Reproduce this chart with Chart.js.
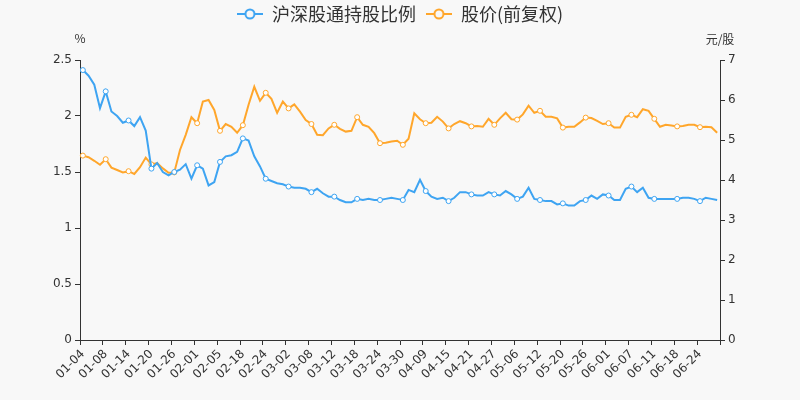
<!DOCTYPE html>
<html>
<head>
<meta charset="utf-8">
<script src="https://cdn.jsdelivr.net/npm/chart.js@4.4.1/dist/chart.umd.min.js"></script>
<style>
  html, body { margin: 0; padding: 0; background: #f8f8f8; }
  #wrap { width: 800px; height: 400px; }
</style>
</head>
<body>
<div id="wrap"><canvas id="chart"></canvas></div>
<script>
// trading days (northbound), 2021-01-04 .. 06-29
const dates = [
  '01-04', '01-05', '01-06', '01-07', '01-08', '01-11', '01-12', '01-13',
  '01-14', '01-15', '01-18', '01-19', '01-20', '01-21', '01-22', '01-25',
  '01-26', '01-27', '01-28', '01-29', '02-01', '02-02', '02-03', '02-04',
  '02-05', '02-08', '02-09', '02-10', '02-18', '02-19', '02-22', '02-23',
  '02-24', '02-25', '02-26', '03-01', '03-02', '03-03', '03-04', '03-05',
  '03-08', '03-09', '03-10', '03-11', '03-12', '03-15', '03-16', '03-17',
  '03-18', '03-19', '03-22', '03-23', '03-24', '03-25', '03-26', '03-29',
  '03-30', '03-31', '04-07', '04-08', '04-09', '04-12', '04-13', '04-14',
  '04-15', '04-16', '04-19', '04-20', '04-21', '04-22', '04-23', '04-26',
  '04-27', '04-28', '04-29', '04-30', '05-06', '05-07', '05-10', '05-11',
  '05-12', '05-13', '05-14', '05-17', '05-20', '05-21', '05-24', '05-25',
  '05-26', '05-27', '05-28', '05-31', '06-01', '06-02', '06-03', '06-04',
  '06-07', '06-08', '06-09', '06-10', '06-11', '06-15', '06-16', '06-17',
  '06-18', '06-21', '06-22', '06-23', '06-24', '06-25', '06-28', '06-29'
];

// 沪深股通持股比例 (%)
const holdRatio = [
  2.41, 2.36, 2.28, 2.07, 2.22, 2.04, 2.00, 1.94, 1.96, 1.91, 1.99, 1.87,
  1.53, 1.58, 1.50, 1.47, 1.50, 1.52, 1.57, 1.44, 1.56, 1.53, 1.38, 1.41,
  1.59, 1.64, 1.65, 1.68, 1.80, 1.78, 1.64, 1.55, 1.44, 1.42, 1.40, 1.39,
  1.37, 1.36, 1.36, 1.35, 1.32, 1.35, 1.31, 1.28, 1.28, 1.25, 1.23, 1.23,
  1.26, 1.25, 1.26, 1.25, 1.25, 1.26, 1.27, 1.26, 1.25, 1.34, 1.32, 1.43,
  1.33, 1.28, 1.26, 1.27, 1.24, 1.27, 1.32, 1.32, 1.30, 1.29, 1.29, 1.32,
  1.30, 1.29, 1.33, 1.30, 1.26, 1.28, 1.36, 1.26, 1.25, 1.24, 1.24, 1.21,
  1.22, 1.20, 1.20, 1.24, 1.25, 1.29, 1.26, 1.30, 1.29, 1.25, 1.25, 1.35,
  1.37, 1.32, 1.36, 1.27, 1.26, 1.26, 1.26, 1.26, 1.26, 1.27, 1.27, 1.26,
  1.24, 1.27, 1.26, 1.25
];

// 股价(前复权) 元/股
const price = [
  4.61, 4.57, 4.48, 4.38, 4.52, 4.31, 4.25, 4.19, 4.22, 4.15, 4.32, 4.56,
  4.39, 4.42, 4.29, 4.18, 4.19, 4.75, 5.13, 5.57, 5.42, 5.96, 6.00, 5.75,
  5.23, 5.40, 5.33, 5.18, 5.37, 5.88, 6.33, 5.98, 6.18, 6.03, 5.68, 5.96,
  5.79, 5.89, 5.71, 5.50, 5.40, 5.13, 5.12, 5.29, 5.38, 5.28, 5.21, 5.23,
  5.57, 5.38, 5.33, 5.17, 4.92, 4.93, 4.96, 4.98, 4.88, 5.03, 5.67, 5.52,
  5.42, 5.43, 5.58, 5.46, 5.29, 5.40, 5.47, 5.42, 5.34, 5.35, 5.33, 5.53,
  5.38, 5.54, 5.68, 5.52, 5.51, 5.64, 5.86, 5.68, 5.73, 5.58, 5.58, 5.54,
  5.31, 5.33, 5.33, 5.44, 5.56, 5.55, 5.48, 5.40, 5.42, 5.31, 5.31, 5.58,
  5.63, 5.57, 5.77, 5.73, 5.53, 5.33, 5.38, 5.36, 5.34, 5.35, 5.38, 5.38,
  5.32, 5.33, 5.32, 5.18
];

const BLUE = '#3ea4f2';
const ORANGE = '#ffa62b';
const BG = '#f8f8f8';
const TXT = '#333';
const NUM_FONT = 'DejaVu Sans';
const CJK_FONT = '"Noto Sans CJK SC", "DejaVu Sans", sans-serif';

// echarts-like legend icon: short line with a hollow circle
function legendIcon(color) {
  const c = document.createElement('canvas');
  c.width = 26; c.height = 12;
  const g = c.getContext('2d');
  g.strokeStyle = color;
  g.lineWidth = 2;
  g.beginPath(); g.moveTo(0, 6); g.lineTo(26, 6); g.stroke();
  g.beginPath(); g.arc(13, 6, 4.5, 0, Math.PI * 2);
  g.fillStyle = BG; g.fill(); g.stroke();
  return c;
}
const icons = [legendIcon(BLUE), legendIcon(ORANGE)];

const markerRadius = (ctx) => ctx.dataIndex % 4 === 0 ? 2.5 : 0;

// unit labels above the two value axes
const axisUnits = {
  id: 'axisUnits',
  afterDraw(chart) {
    const {ctx, scales} = chart;
    ctx.save();
    ctx.fillStyle = TXT;
    ctx.font = '12px ' + CJK_FONT;
    ctx.textAlign = 'center';
    ctx.textBaseline = 'middle';
    ctx.fillText('%', scales.y.right, scales.y.top - 22);
    ctx.fillText('元/股', scales.y1.left, scales.y1.top - 21);
    ctx.restore();
  }
};

// fixed legend band height so the plot starts where the reference does
const legendBand = {
  id: 'legendBand',
  afterInit(chart) {
    const legend = chart.legend;
    const fit = legend.fit.bind(legend);
    legend.fit = () => { fit(); legend.height = 65; };
  }
};

new Chart(document.getElementById('chart'), {
  type: 'line',
  data: {
    labels: dates,
    datasets: [
      {
        label: '沪深股通持股比例',
        data: holdRatio,
        yAxisID: 'y',
        borderColor: BLUE,
        backgroundColor: BLUE,
        borderWidth: 2,
        tension: 0,
        pointRadius: markerRadius,
        pointHoverRadius: markerRadius,
        pointBackgroundColor: '#fff',
        pointBorderColor: BLUE,
        pointBorderWidth: 1
      },
      {
        label: '股价(前复权)',
        data: price,
        yAxisID: 'y1',
        borderColor: ORANGE,
        backgroundColor: ORANGE,
        borderWidth: 2,
        tension: 0,
        pointRadius: markerRadius,
        pointHoverRadius: markerRadius,
        pointBackgroundColor: '#fff',
        pointBorderColor: ORANGE,
        pointBorderWidth: 1
      }
    ]
  },
  options: {
    responsive: true,
    maintainAspectRatio: false,
    animation: false,
    layout: {padding: {top: -5, left: 0, right: 0, bottom: 0}},
    plugins: {
      legend: {
        position: 'top',
        align: 'center',
        labels: {
          usePointStyle: true,
          pointStyleWidth: 26,
          padding: 10,
          color: TXT,
          font: {size: 18, family: CJK_FONT},
          generateLabels(chart) {
            const items = Chart.defaults.plugins.legend.labels.generateLabels(chart);
            items.forEach((it) => { it.pointStyle = icons[it.datasetIndex]; });
            return items;
          }
        }
      },
      tooltip: {enabled: false}
    },
    scales: {
      x: {
        offset: true,
        grid: {
          offset: true,
          drawOnChartArea: false,
          tickLength: 5,
          tickColor: (ctx) => (ctx.index === undefined || ctx.index % 4 === 0) ? TXT : 'rgba(0,0,0,0)'
        },
        border: {color: TXT, width: 1},
        ticks: {
          autoSkip: false,
          minRotation: 45,
          maxRotation: 45,
          color: TXT,
          font: {size: 12, family: NUM_FONT},
          padding: 2,
          callback: (v, i) => i % 4 === 0 ? dates[i] : ''
        },
        afterFit: (s) => { s.height = 60; }
      },
      y: {
        position: 'left',
        min: 0,
        max: 2.5,
        grid: {drawOnChartArea: false, tickLength: 5, tickColor: TXT},
        border: {color: TXT, width: 1},
        ticks: {
          stepSize: 0.5,
          color: TXT,
          font: {size: 12, family: NUM_FONT},
          padding: 3,
          callback: (v) => String(Math.round(v * 10) / 10)
        },
        afterFit: (s) => { s.width = 80; }
      },
      y1: {
        position: 'right',
        min: 0,
        max: 7,
        grid: {drawOnChartArea: false, tickLength: 5, tickColor: TXT},
        border: {color: TXT, width: 1},
        ticks: {stepSize: 1, color: TXT, font: {size: 12, family: NUM_FONT}, padding: 3},
        afterFit: (s) => { s.width = 80; }
      }
    }
  },
  plugins: [axisUnits, legendBand]
});
</script>
</body>
</html>
